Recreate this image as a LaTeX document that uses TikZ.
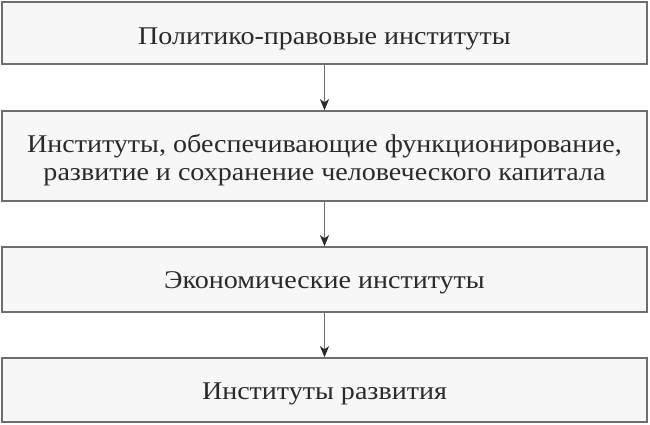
\documentclass[tikz,border=0pt]{standalone}
\usepackage{fontspec}
\setmainfont[FakeStretch=1.1]{Liberation Serif}
\usetikzlibrary{arrows.meta}
\definecolor{bg}{HTML}{F7F7F7}
\definecolor{edge}{HTML}{6E6E6E}
\definecolor{txt}{HTML}{2A2A2A}
\begin{document}
\begin{tikzpicture}[x=1pt,y=-1pt,
  box/.style={draw=edge,line width=1.6pt,fill=bg,minimum width=645pt,inner sep=0pt,
    font=\fontsize{25.5}{28}\selectfont,text=txt,align=center,text height=19pt,text depth=1pt},
  conn/.style={draw=edge,line width=1.4pt,-{Stealth[length=11pt,width=9pt,inset=3pt,color=txt]}}]
\fill[white] (0,0) rectangle (650,424);
\useasboundingbox (0,0) rectangle (650,424);
\node[box,minimum height=62pt,text height=23.6pt] (b1) at (324.5,33) {Политико-правовые институты};
\node[box,minimum height=90pt,text height=50pt] (b2) at (324.5,156) {Институты, обеспечивающие функционирование,\\развитие и сохранение человеческого капитала};
\node[box,minimum height=65pt] (b3) at (324.5,279.5) {Экономические институты};
\node[box,minimum height=64pt] (b4) at (324.5,390) {Институты развития};
\draw[conn] (b1) -- (b2);
\draw[conn] (b2) -- (b3);
\draw[conn] (b3) -- (b4);
\end{tikzpicture}
\end{document}
